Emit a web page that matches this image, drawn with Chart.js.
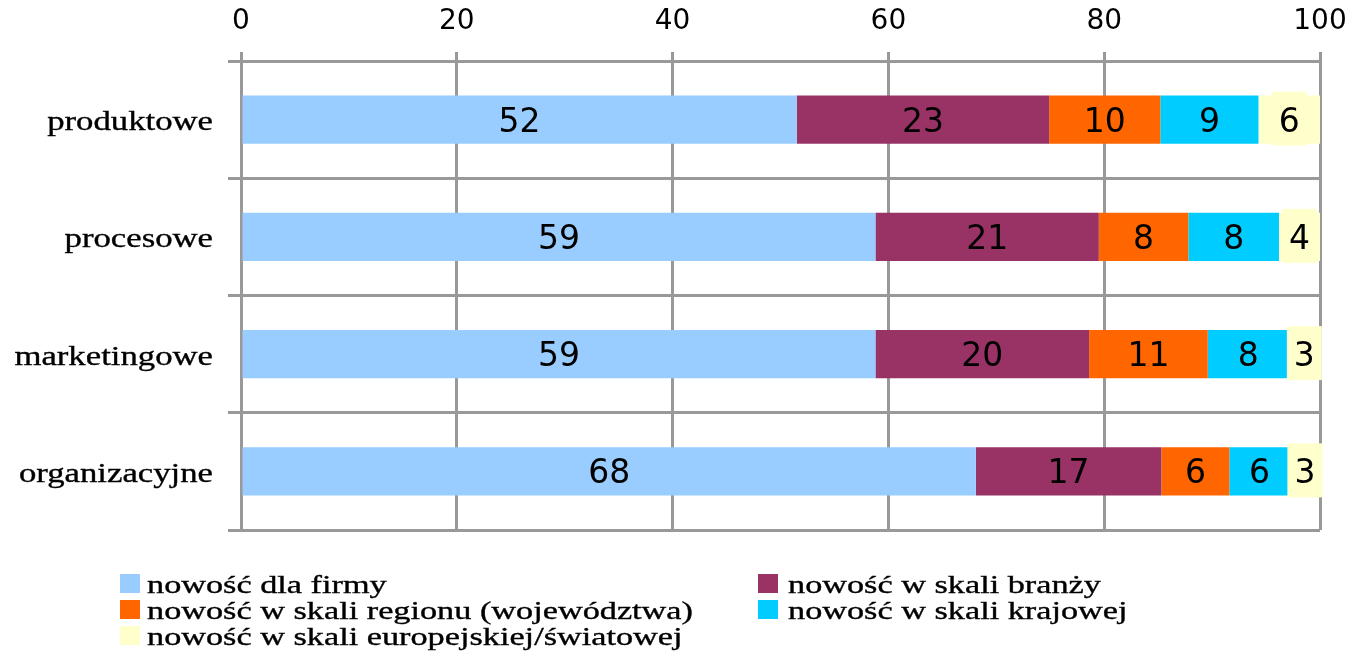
<!DOCTYPE html>
<html><head><meta charset="utf-8">
<script src="https://cdn.jsdelivr.net/npm/chart.js@4"></script>
<style>html,body{margin:0;padding:0;background:#fff;overflow:hidden}#wrap{position:relative;width:1354px;height:653px}</style>
</head><body><div id="wrap"><canvas id="c"></canvas></div>
<script>
const categories = ['produktowe', 'procesowe', 'marketingowe', 'organizacyjne'];
const seriesNames = ['nowość dla firmy', 'nowość w skali branży', 'nowość w skali regionu (województwa)', 'nowość w skali krajowej', 'nowość w skali europejskiej/światowej'];
const firmy = [51.5, 58.8, 58.8, 68.1];
const branzy = [23.4, 20.7, 19.8, 17.2];
const regionu = [10.3, 8.3, 11.0, 6.3];
const krajowej = [9.1, 8.4, 7.5, 5.6];
const swiatowej = [5.7, 3.8, 2.9, 2.8];
const xTicks = [0, 20, 40, 60, 80, 100];
const colors = ['#99CCFF', '#993366', '#FF6600', '#00CCFF', '#FFFFCC'];

const seriesValues = [firmy, branzy, regionu, krajowej, swiatowej];
const GRID = '#999999';
const SERIF = '"Liberation Serif", "Times New Roman", serif';
const SANS = '"DejaVu Sans", Verdana, sans-serif';

function stretchedText(ctx, txt, x, y, sx) {
  ctx.save();
  ctx.translate(x, y);
  ctx.scale(sx, 1);
  ctx.fillText(txt, 0, 0);
  ctx.lineWidth = 0.35;
  ctx.strokeStyle = '#000';
  ctx.strokeText(txt, 0, 0);
  ctx.restore();
}

const labelPlugin = {
  id: 'customLabels',
  afterDatasetsDraw(chart) {
    const ctx = chart.ctx;
    ctx.save();
    ctx.font = '33px ' + SANS;
    ctx.textAlign = 'center';
    ctx.textBaseline = 'alphabetic';
    chart.data.datasets.forEach((ds, di) => {
      const meta = chart.getDatasetMeta(di);
      meta.data.forEach((el, i) => {
        const v = ds.data[i];
        const txt = String(Math.round(v));
        const cx = (el.x + el.base) / 2;
        const cy = el.y;
        if (di === chart.data.datasets.length - 1) {
          const w = ctx.measureText(txt).width + 14;
          ctx.fillStyle = ds.backgroundColor;
          ctx.fillRect(cx - w / 2, cy - 28, w, 54);
        }
        ctx.fillStyle = '#000';
        ctx.fillText(txt, cx, cy + 12);
      });
    });
    ctx.restore();
  },
  afterDraw(chart) {
    const ctx = chart.ctx;
    const ys = chart.scales.y;
    ctx.save();
    ctx.fillStyle = '#000';
    ctx.font = '28px ' + SERIF;
    ctx.textBaseline = 'alphabetic';
    ctx.textAlign = 'right';
    chart.data.labels.forEach((lab, i) => {
      const y = ys.getPixelForValue(i);
      stretchedText(ctx, lab, 213, y + 10.5, 1.24);
    });
    // legend
    ctx.textAlign = 'left';
    ctx.font = '25px ' + SERIF;
    const colBox = [120, 758], colText = [147, 788];
    chart.data.datasets.forEach((ds, i) => {
      const col = i % 2, row = Math.floor(i / 2);
      const top = 574 + row * 26;
      ctx.fillStyle = ds.backgroundColor;
      ctx.fillRect(colBox[col], top, 20, 19);
      ctx.fillStyle = '#000';
      stretchedText(ctx, ds.label, colText[col], top + 18.5, 1.37);
    });
    ctx.restore();
  }
};

new Chart(document.getElementById('c'), {
  type: 'bar',
  data: {
    labels: categories,
    datasets: seriesNames.map((name, i) => ({
      label: name,
      data: seriesValues[i],
      backgroundColor: colors[i],
      borderWidth: 0,
      barPercentage: 0.41,
      categoryPercentage: 1.0
    }))
  },
  options: {
    indexAxis: 'y',
    responsive: true,
    maintainAspectRatio: false,
    animation: false,
    layout: { padding: { left: 0, right: 34, top: 0, bottom: 123 } },
    plugins: { legend: { display: false }, tooltip: { enabled: false } },
    scales: {
      x: {
        position: 'top',
        stacked: true,
        min: 0, max: 100,
        afterBuildTicks: (s) => { s.ticks = xTicks.map(v => ({ value: v })); },
        afterFit: (s) => { s.height = 61; s.paddingLeft = 0; s.paddingRight = 0; },
        ticks: { color: '#000', font: { family: SANS, size: 28 }, padding: 13, maxRotation: 0 },
        grid: { color: GRID, lineWidth: 3, tickLength: 9, drawTicks: true },
        border: { display: true, color: GRID, width: 3 }
      },
      y: {
        stacked: true,
        offset: true,
        afterFit: (s) => { s.width = 241; },
        ticks: { display: false },
        grid: { offset: true, color: GRID, lineWidth: 3, tickLength: 13, drawTicks: true },
        border: { display: true, color: GRID, width: 3 }
      }
    }
  },
  plugins: [labelPlugin]
});
</script></body></html>
